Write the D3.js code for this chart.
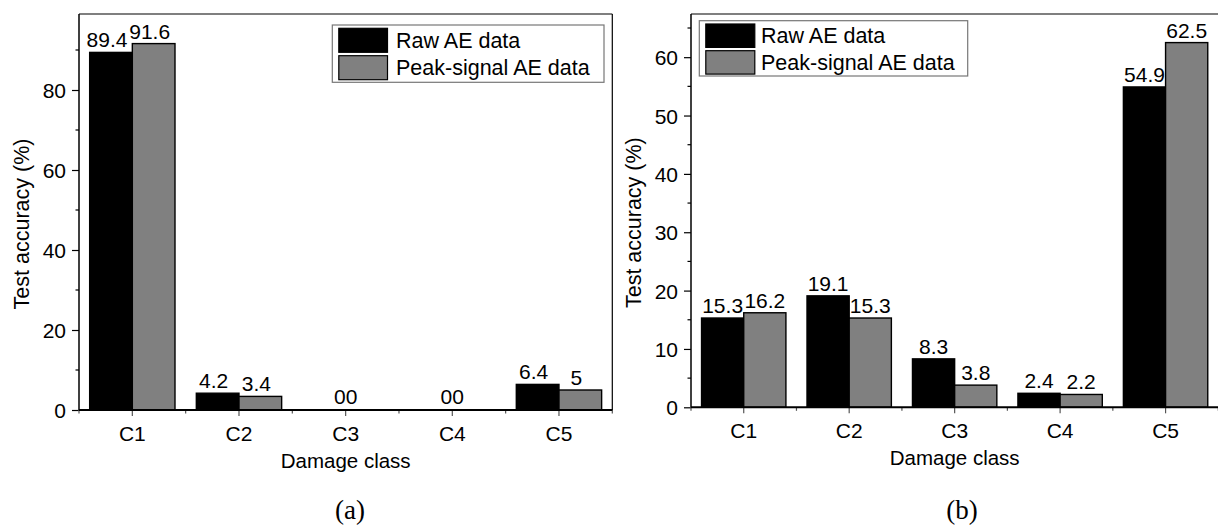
<!DOCTYPE html>
<html>
<head>
<meta charset="utf-8">
<script src="https://cdn.jsdelivr.net/npm/d3@7"></script>
<style>
  html, body { margin: 0; padding: 0; background: #fff; }
  svg { display: block; font-family: Arial, "Liberation Sans", sans-serif; }
</style>
</head>
<body>
<svg id="chart" width="1218" height="530"></svg>
<script>
// Damage class accuracy, two panels
const categories = ['C1', 'C2', 'C3', 'C4', 'C5'];
const seriesNames = ['Raw AE data', 'Peak-signal AE data'];
const seriesColors = ['#000000', '#808080'];

const rawA = [89.4, 4.2, 0, 0, 6.4];
const peakA = [91.6, 3.4, 0, 0, 5];
const rawB = [15.3, 19.1, 8.3, 2.4, 54.9];
const peakB = [16.2, 15.3, 3.8, 2.2, 62.5];

const yTicksA = [0, 20, 40, 60, 80];
const yMinorA = [10, 30, 50, 70, 90];
const yTicksB = [0, 10, 20, 30, 40, 50, 60];
const yMinorB = [5, 15, 25, 35, 45, 55, 65];

const xTitle = 'Damage class';
const yTitle = 'Test accuracy (%)';

const svg = d3.select('#chart');

const panels = [
    {
        series: [rawA, peakA], yMax: 99, yTicks: yTicksA, yMinor: yMinorA,
        left: 79, right: 612.3, top: 14, bottom: 410, labelDx: -4, rightFrame: true,
        caption: '(a)', captionX: 350, yTitleX: 29,
        legend: { x: 332.3, y: 25, w: 271.7, h: 57.3, sw: 48.7, sh: 24, gap: 3.4, tx: 396 }
    },
    {
        series: [rawB, peakB], yMax: 67.4, yTicks: yTicksB, yMinor: yMinorB,
        left: 691, right: 1218.3, top: 14, bottom: 407.3, labelDx: 0, rightFrame: false,
        caption: '(b)', captionX: 962, yTitleX: 641,
        legend: { x: 699.3, y: 20.7, w: 268.4, h: 55.3, sw: 49, sh: 23.4, gap: 3.3, tx: 761 }
    }
];

function drawPanel(p) {
    const g = svg.append('g');

    const x = d3.scaleBand()
        .domain(categories)
        .range([p.left, p.right])
        .paddingInner(0.2)
        .paddingOuter(0.1);

    const xs = d3.scaleBand()
        .domain(d3.range(p.series.length))
        .range([0, x.bandwidth()]);

    const y = d3.scaleLinear()
        .domain([0, p.yMax])
        .range([p.bottom, p.top]);

    const step = x.step();

    // Frame: top and right (thin)
    g.append('line')
        .attr('x1', p.left).attr('x2', p.right)
        .attr('y1', p.top).attr('y2', p.top)
        .style('stroke', '#000').style('stroke-width', 1.2);
    if (p.rightFrame) {
        g.append('line')
            .attr('x1', p.right).attr('x2', p.right)
            .attr('y1', p.top).attr('y2', p.bottom)
            .style('stroke', '#000').style('stroke-width', 1.2);
    }

    // Bars
    p.series.forEach((vals, si) => {
        g.selectAll(null)
            .data(vals)
            .join('rect')
            .attr('x', (d, i) => x(categories[i]) + xs(si))
            .attr('y', d => y(d))
            .attr('width', xs.bandwidth())
            .attr('height', d => y(0) - y(d))
            .style('fill', seriesColors[si])
            .style('stroke', '#000')
            .style('stroke-width', d => d > 0 ? 1.4 : 0);
    });

    // Value labels
    p.series.forEach((vals, si) => {
        g.selectAll(null)
            .data(vals)
            .join('text')
            .attr('x', (d, i) => {
                if (d === 0) return x(categories[i]) + x.bandwidth() / 2;
                return x(categories[i]) + xs(si) + xs.bandwidth() / 2 + p.labelDx;
            })
            .attr('y', d => y(d) - (d === 0 ? 6 : 5))
            .attr('text-anchor', d => d === 0 ? (si === 0 ? 'end' : 'start') : 'middle')
            .style('font-size', '21px')
            .style('fill', '#000')
            .text(d => d3.format('~g')(d));
    });

    // Y axis
    const yAxis = d3.axisLeft(y)
        .tickValues(p.yTicks)
        .tickSize(7)
        .tickPadding(6)
        .tickFormat(d3.format('d'));
    const ya = g.append('g')
        .attr('transform', `translate(${p.left},0)`)
        .call(yAxis);
    ya.select('.domain').remove();
    ya.selectAll('text').style('font-size', '21px').style('font-family', 'Arial, "Liberation Sans", sans-serif').attr('dy', '0.36em');
    ya.selectAll('line').style('stroke-width', 1.2);
    g.selectAll(null)
        .data(p.yMinor)
        .join('line')
        .attr('x1', p.left - 3.5).attr('x2', p.left)
        .attr('y1', d => y(d)).attr('y2', d => y(d))
        .style('stroke', '#000').style('stroke-width', 1.2);
    g.append('line')
        .attr('x1', p.left).attr('x2', p.left)
        .attr('y1', p.top).attr('y2', p.bottom)
        .style('stroke', '#000').style('stroke-width', 1.5);

    // X axis
    const xAxis = d3.axisBottom(x)
        .tickSize(6)
        .tickPadding(10);
    const xa = g.append('g')
        .attr('transform', `translate(0,${p.bottom})`)
        .call(xAxis);
    xa.select('.domain').remove();
    xa.selectAll('text').style('font-size', '21px').style('font-family', 'Arial, "Liberation Sans", sans-serif');
    xa.selectAll('line').style('stroke', '#555').style('stroke-width', 1.2);
    const bounds = categories.map(c => x(c) - step * 0.1).concat([p.right]);
    g.selectAll(null)
        .data(bounds)
        .join('line')
        .attr('x1', d => d).attr('x2', d => d)
        .attr('y1', p.bottom).attr('y2', p.bottom + 3.5)
        .style('stroke', '#555').style('stroke-width', 1.2);
    g.append('line')
        .attr('x1', p.left).attr('x2', p.right)
        .attr('y1', p.bottom).attr('y2', p.bottom)
        .style('stroke', '#000').style('stroke-width', 2);

    // Axis titles
    g.append('text')
        .attr('x', (p.left + p.right) / 2)
        .attr('y', p.bottom + 58)
        .attr('text-anchor', 'middle')
        .style('font-size', '20.5px')
        .text(xTitle);
    g.append('text')
        .attr('transform', `translate(${p.yTitleX},${(p.top + p.bottom) / 2 + 12}) rotate(-90)`)
        .attr('text-anchor', 'middle')
        .style('font-size', '21.5px')
        .text(yTitle);

    // Caption
    g.append('text')
        .attr('x', p.captionX)
        .attr('y', 519)
        .attr('text-anchor', 'middle')
        .style('font-family', '"Times New Roman", "Liberation Serif", serif')
        .style('font-size', '27px')
        .text(p.caption);

    // Legend
    const L = p.legend;
    const lg = g.append('g');
    lg.append('rect')
        .attr('x', L.x).attr('y', L.y)
        .attr('width', L.w).attr('height', L.h)
        .style('fill', '#fff')
        .style('stroke', '#777')
        .style('stroke-width', 1.2);
    seriesNames.forEach((name, i) => {
        const sy = L.y + 3.3 + i * (L.sh + L.gap);
        lg.append('rect')
            .attr('x', L.x + 6.5).attr('y', sy)
            .attr('width', L.sw).attr('height', L.sh)
            .style('fill', seriesColors[i])
            .style('stroke', '#000')
            .style('stroke-width', 1.2);
        lg.append('text')
            .attr('x', L.tx)
            .attr('y', sy + L.sh / 2)
            .attr('dy', '0.36em')
            .style('font-size', '21.5px')
            .text(name);
    });
}

panels.forEach(drawPanel);
</script>
</body>
</html>
